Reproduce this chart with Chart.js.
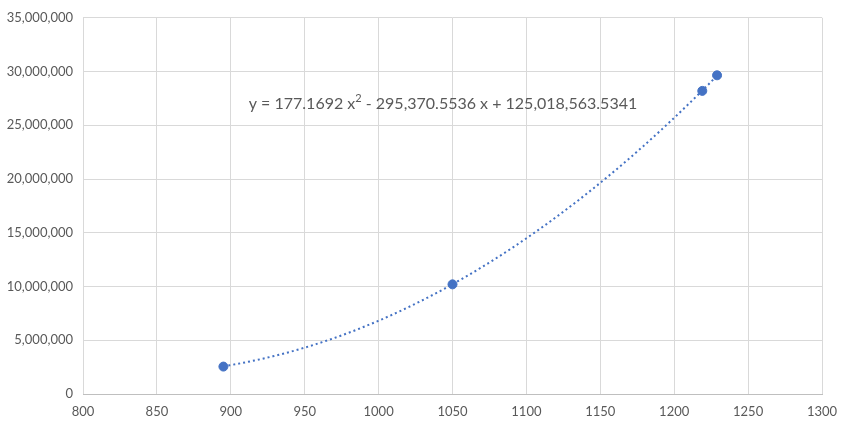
<!DOCTYPE html>
<html>
<head>
<meta charset="utf-8">
<script src="https://cdn.jsdelivr.net/npm/chart.js@4"></script>
<style>
  html, body { margin: 0; padding: 0; background: #fff; }
  #wrap { width: 852px; height: 429px; }
</style>
</head>
<body>
<div id="wrap"><canvas id="myChart" width="852" height="429"></canvas></div>
<script>
var xValues = [895, 1050, 1219, 1229];
var yValues = [2550000, 10200000, 28200000, 29650000];
// polynomial trendline coefficients, as printed on the chart (a, b, c)
var trendCoef = [177.1692, -295370.5536, 125018563.5341];
var xTicks = [800, 850, 900, 950, 1000, 1050, 1100, 1150, 1200, 1250, 1300];
var yTicks = [0, 5000000, 10000000, 15000000, 20000000, 25000000, 30000000, 35000000];

var FONT = 'Lato, "Open Sans", "Liberation Sans", sans-serif';

var points = xValues.map(function (x, i) { return { x: x, y: yValues[i] }; });

var trend = [];
var x0 = Math.min.apply(null, xValues), x1 = Math.max.apply(null, xValues);
for (var k = 0; k <= 80; k++) {
    var x = x0 + (x1 - x0) * k / 80;
    trend.push({ x: x, y: trendCoef[0] * x * x + trendCoef[1] * x + trendCoef[2] });
}

var eqLabel = {
    id: 'eqLabel',
    afterDatasetsDraw: function (chart) {
        var ctx = chart.ctx;
        ctx.save();
        ctx.fillStyle = '#595959';
        ctx.textBaseline = 'alphabetic';
        var big = '16px ' + FONT, small = '11px ' + FONT;
        var p1 = 'y = 177.1692 x';
        var p2 = ' - 295,370.5536 x + 125,018,563.5341';
        ctx.font = big;
        var w1 = ctx.measureText(p1).width;
        var w2 = ctx.measureText(p2).width;
        ctx.font = small;
        var ws = ctx.measureText('2').width;
        var left = 443 - (w1 + ws + w2) / 2;
        var base = 109;
        ctx.font = big;
        ctx.fillText(p1, left, base);
        ctx.font = small;
        ctx.fillText('2', left + w1, base - 7);
        ctx.font = big;
        ctx.fillText(p2, left + w1 + ws, base);
        ctx.restore();
    }
};

var ctx = document.getElementById('myChart').getContext('2d');
var myChart = new Chart(ctx, {
    type: 'scatter',
    data: {
        datasets: [{
            type: 'line',
            data: trend,
            borderColor: '#4472C4',
            borderWidth: 2,
            borderDash: [2, 3],
            pointRadius: 0,
            fill: false,
            tension: 0
        }, {
            data: points,
            backgroundColor: '#4472C4',
            borderColor: '#4472C4',
            pointRadius: 4.5,
            pointHoverRadius: 4.5
        }]
    },
    options: {
        responsive: false,
        animation: false,
        layout: { padding: { top: 16, right: 30, left: 0, bottom: 0 } },
        plugins: { legend: { display: false }, tooltip: { enabled: false } },
        scales: {
            x: {
                type: 'linear',
                min: 800, max: 1300,
                afterBuildTicks: function (s) { s.ticks = xTicks.map(function (v) { return { value: v }; }); },
                afterFit: function (s) { s.height = 35; },
                grid: { color: '#d9d9d9', drawTicks: false },
                border: { color: '#bfbfbf' },
                ticks: {
                    color: '#595959',
                    padding: 10,
                    font: { family: FONT, size: 13 },
                    callback: function (v) { return String(v); }
                }
            },
            y: {
                type: 'linear',
                min: 0, max: 35000000,
                afterBuildTicks: function (s) { s.ticks = yTicks.map(function (v) { return { value: v }; }); },
                afterFit: function (s) { s.width = 83; },
                grid: { color: '#d9d9d9', drawTicks: false },
                border: { display: false },
                ticks: {
                    color: '#595959',
                    padding: 10,
                    font: { family: FONT, size: 13 },
                    callback: function (v) { return v.toLocaleString('en-US'); }
                }
            }
        }
    },
    plugins: [eqLabel]
});
</script>
</body>
</html>
